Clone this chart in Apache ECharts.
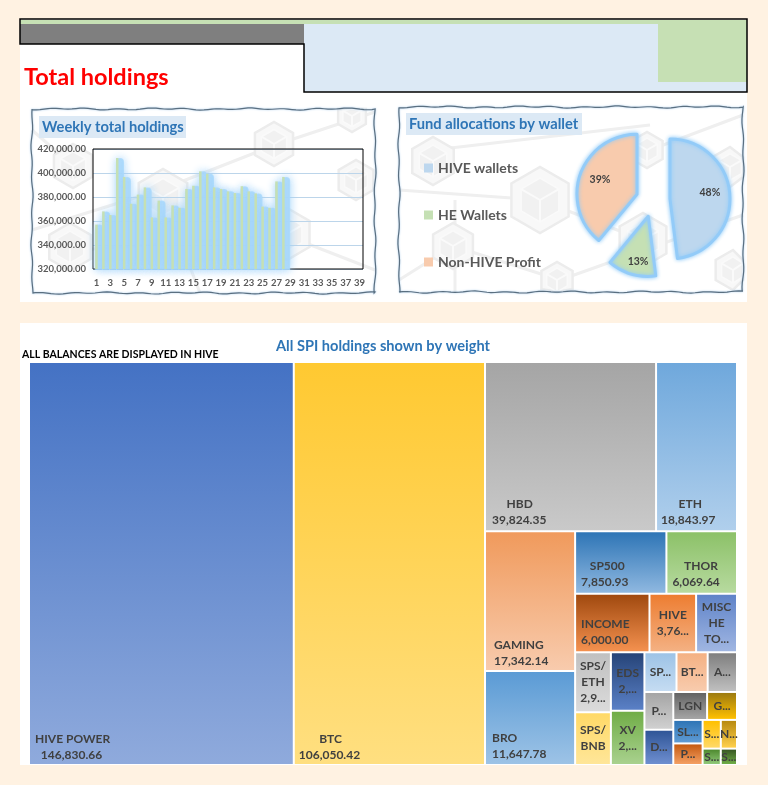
<!DOCTYPE html>
<html><head><meta charset="utf-8">
<style>html,body{margin:0;padding:0;background:#fff2e2}#c{width:768px;height:785px}</style>
<script src="https://cdn.jsdelivr.net/npm/echarts@6/dist/echarts.min.js"></script>
</head><body><div id="c"></div>
<script>
// ---------- data ----------
const weeks = ['1','2','3','4','5','6','7','8','9','10','11','12','13','14','15','16','17','18','19','20','21','22','23','24','25','26','27','28','29','30','31','32','33','34','35','36','37','38','39'];
const weeklyTotals = [357000,368000,365000,412500,396700,374400,382000,388000,363000,377000,363000,373000,371000,386700,389400,401400,399400,388000,386700,384700,383300,389000,384700,383000,372000,371000,393000,396700];
const walletNames = ['HIVE wallets','HE Wallets','Non-HIVE Profit'];
const walletShares = [48,13,39];
const holdingNames = ['HIVE POWER','BTC','HBD','ETH','GAMING','BRO','SP500','THOR','INCOME','HIVE','MISC HE TOKENS','SPS/ETH','SPS/BNB','EDS','XV','SP','BT','A','P','D','LGN','G','SL','P2','S1','N','S2','S3'];
const holdingValues = [146830.66,106050.42,39824.35,18843.97,17342.14,11647.78,7850.93,6069.64,6000,3760,3300,2950,2600,2700,2500,1750,1700,1600,1500,1400,1300,1150,950,870,720,640,410,365];
const holdingLabels = ['HIVE POWER\n  146,830.66','       BTC\n106,050.42','     HBD\n39,824.35','      ETH\n18,843.97','GAMING\n17,342.14','BRO\n11,647.78','   SP500\n7,850.93','    THOR\n6,069.64','INCOME\n6,000.00','HIVE\n3,76...','MISC\nHE\nTO...','SPS/\nETH\n2,9...','SPS/\nBNB','EDS\n2,...','XV\n2,...','SP...','BT...','A...','P...','D...','LGN','G...','SL...','P...','S...','N...','S...','S...'];
// ---------- styles ----------
const holdingColors = [['#4472c4','#8faadc'],['#ffc931','#ffdf80'],['#a5a5a5','#c9c9c9'],['#6fa8dc','#b0cfec'],['#f09a5c','#f8cbad'],['#5b9bd5','#9dc3e6'],['#2e75b6','#8fb8e0'],['#8cc168','#b7da9f'],['#a0490f','#f4914f'],['#ed7d31','#f4b183'],['#5f83c8','#a0b6e2'],['#c0c0c0','#dbdbdb'],['#ffd966','#ffe699'],['#264478','#5a80c6'],['#70ad47','#a9d18e'],['#9dc3e6','#c5dcf2'],['#f4b183','#f8cbad'],['#7f7f7f','#bfbfbf'],['#a5a5a5','#d0d0d0'],['#2f5597','#6f8fd0'],['#636363','#a5a5a5'],['#9c7a10','#ffc000'],['#2e75b6','#5f9bd4'],['#c55a11','#f4a064'],['#ffc000','#ffd966'],['#b88a10','#ffd04d'],['#4e8a2f','#90c878'],['#385723','#70ad47']];
// label box: [x offset, y offset] from leaf top-left (only for the big cells with bottom labels)
const labelAnchors = {0:[5,368],1:[4,368],2:[6,133],3:[4,133],4:[8,105],5:[6,58],6:[5,26],7:[5,26],8:[5,21]};
const nesting = [0,1,[[2,3],[[4,5],[[6,7],[[8,9,10],[[11,12],[[13,14],[[15,16,17],[[18,19],[[20,21],[[22,23],[[24,25],[26,27]
  ]]]]]]]]]]]];
const font = 'Lato, "Open Sans", sans-serif';
function buildNode(n){
  if(Array.isArray(n)) return {name:'', children:n.map(buildNode)};
  const a = labelAnchors[n];
  return {
    name: holdingNames[n], value: holdingValues[n],
    itemStyle:{borderWidth:1,borderColor:'#fff',color:{type:'linear',x:0,y:0,x2:0,y2:1,colorStops:[{offset:0,color:holdingColors[n][0]},{offset:1,color:holdingColors[n][1]}]}},
    label:{show:true,formatter:holdingLabels[n],lineHeight:n>=26?12:16,
      position:a||'inside',align:a?'left':'center',verticalAlign:a?'top':'middle'}
  };
}
// ---------- decoration ----------
function hexagons(card, list){
  const out=[];
  const clamp=p=>[Math.min(card.x+card.w,Math.max(card.x,p[0])),Math.min(card.y+card.h,Math.max(card.y,p[1]))];
  list.links.forEach(l=>out.push({type:'polyline',shape:{points:[clamp(l[0]),clamp(l[1])]},style:{stroke:'#efefef',lineWidth:3,fill:null}}));
  list.hex.forEach(h=>{
    const pts=[];for(let i=0;i<6;i++){const a=Math.PI/6+i*Math.PI/3;pts.push(clamp([h[0]+h[2]*Math.cos(a),h[1]+h[2]*Math.sin(a)]));}
    out.push({type:'polygon',shape:{points:pts},style:{fill:'#f8f8f8',stroke:'#ececec',lineWidth:2.5}});
    const r=h[2]*0.66,q=[];for(let i=0;i<6;i++){const a=Math.PI/6+i*Math.PI/3;q.push(clamp([h[0]+r*Math.cos(a),h[1]+r*Math.sin(a)]));}
    out.push({type:'polygon',shape:{points:q},style:{fill:'#f1f1f1',stroke:'#fafafa',lineWidth:1.5}});
    [1,3,5].forEach(i=>out.push({type:'polyline',shape:{points:[clamp([h[0],h[1]]),q[i]]},style:{stroke:'#fafafa',lineWidth:2,fill:null}}));
  });
  return out;
}
function wavyBorder(c){
  const pts=[];const wob=(t,k)=>Math.sin(t*0.19+k)*0.6+Math.sin(t*0.07+k*2)*0.5;
  for(let x=0;x<=c.w;x+=4)pts.push([c.x+x,c.y+wob(x,1)]);
  for(let y=0;y<=c.h;y+=4)pts.push([c.x+c.w+wob(y,2),c.y+y]);
  for(let x=c.w;x>=0;x-=4)pts.push([c.x+x,c.y+c.h+wob(x,3)]);
  for(let y=c.h;y>=0;y-=4)pts.push([c.x+wob(y,4),c.y+y]);
  return {type:'polygon',shape:{points:pts},style:{fill:null,stroke:'#5a6f80',lineWidth:1.2,shadowBlur:2,shadowColor:'#9fc5e8'}};
}
const rect=(x,y,w,h,fill)=>({type:'rect',shape:{x,y,width:w,height:h},style:{fill}});
const leftCard={x:32,y:109,w:343,h:184}, rightCard={x:399,y:107,w:344,h:185};
const graphics=[
  rect(20,19,727,283,'#fff'), rect(20,323,727,442,'#fff'),
  rect(20,20,727,5,'#c6e0b4'), rect(20,24,284,20,'#7f7f7f'), rect(304,24,443,68,'#dce9f5'), rect(658,24,89,58,'#c6e0b4'),
  {type:'polygon',shape:{points:[[20,19],[747,19],[747,92],[304,92],[304,44],[20,44]]},style:{fill:null,stroke:'#000',lineWidth:1.5}},
  rect(32,109,343,184,'#fff'), rect(399,107,344,185,'#fff'),
  ...hexagons(leftCard,{hex:[[73,166,22],[274,144,22],[163,197,28],[70,247,24],[356,180,20],[287,234,26],[352,116,16],[213,205,14]],
    links:[[[32,230],[160,190]],[[160,190],[275,145]],[[275,145],[375,112]],[[80,250],[285,235]],[[285,235],[375,270]],[[163,197],[200,293]],[[73,166],[32,130]]]}),
  ...hexagons(rightCard,{hex:[[433,161,24],[540,200,33],[453,246,23],[647,150,18],[643,240,27],[557,280,18],[730,167,20],[733,270,20]],
    links:[[[399,190],[540,200]],[[433,150],[650,125]],[[650,150],[743,115]],[[453,246],[399,280]],[[453,246],[560,280]],[[560,280],[743,215]],[[455,200],[455,292]],[[540,200],[643,240]]]}),
  wavyBorder(leftCard), wavyBorder(rightCard),
  rect(39,116,147,22,'#dce9f5'), rect(406,113,176,22,'#dce9f5')
];
// ---------- chart ----------
const barData = weeks.map((_,i)=> i<weeklyTotals.length?weeklyTotals[i]:null);
const labelPush = [[7,-4],[-1,14],[-6,-3]];
const sel = walletNames.map((n,i)=>({name:n,value:walletShares[i],selected:true,
  itemStyle:{color:['#bdd7ee','#c5e0b4','#f8cbad'][i]}}));
const chart = echarts.init(document.getElementById('c'),null,{renderer:'canvas'});
chart.setOption({
  animation:false,
  backgroundColor:'#fff2e2',
  textStyle:{fontFamily:font},
  graphic:graphics,
  title:[
    {text:'Total holdings',left:24,top:65,padding:0,textStyle:{color:'#ff0000',fontSize:23.5,fontWeight:'bold',fontFamily:font}},
    {text:'Weekly total holdings',left:42,top:120,padding:0,textStyle:{color:'#2e75b6',fontSize:14.7,fontWeight:'bold',fontFamily:font}},
    {text:'Fund allocations by wallet',left:409,top:117,padding:0,textStyle:{color:'#2e75b6',fontSize:14.7,fontWeight:'bold',fontFamily:font}},
    {text:'All SPI holdings shown by weight',left:276,top:339,padding:0,textStyle:{color:'#2e75b6',fontSize:14.6,fontWeight:'bold',fontFamily:font}},
    {text:'ALL BALANCES ARE DISPLAYED IN HIVE',left:22,top:349,padding:0,textStyle:{color:'#000',fontSize:10.5,fontWeight:'bold',fontFamily:font}}
  ],
  legend:{orient:'vertical',left:419,top:156,itemWidth:9,itemHeight:9,itemGap:33,icon:'rect',selectedMode:false,data:walletNames,
    itemStyle:{borderWidth:0,shadowBlur:0},
    textStyle:{color:'#595959',fontSize:14,fontWeight:'bold',fontFamily:font}},
  grid:{left:93,top:149,width:270,height:120,show:true,z:1,borderColor:'#000',borderWidth:1,backgroundColor:'transparent'},
  xAxis:{type:'category',data:weeks,axisTick:{show:false},axisLine:{show:false},
    axisLabel:{interval:1,color:'#595959',fontSize:9.5,fontWeight:'bold',margin:9,fontFamily:font}},
  yAxis:{type:'value',min:320000,max:420000,interval:20000,axisLine:{show:false},axisTick:{show:false},
    splitLine:{lineStyle:{color:'#bcd5ea',width:1}},
    axisLabel:{color:'#595959',fontSize:9.5,fontWeight:'bold',margin:7,fontFamily:font,
      formatter:v=>v.toLocaleString('en-US',{minimumFractionDigits:2})}},
  series:[
    {type:'bar',name:'glow',data:barData,barWidth:8,barGap:'-100%',silent:true,z:2,
      itemStyle:{color:'#a9d8fb',opacity:0.85,borderColor:'#a9d8fb',borderWidth:2,shadowBlur:8,shadowColor:'#9fd3fb',borderRadius:[4,4,0,0]}},
    {type:'bar',name:'Weekly total holdings',data:barData,barWidth:2.5,barGap:'-100%',z:3,
      itemStyle:{color:'#c5e0b4'}},
    {type:'pie',center:[653,200],radius:60,startAngle:90,selectedMode:'multiple',selectedOffset:17,
      data:sel,
      itemStyle:{borderColor:'#93cbf8',borderWidth:3,shadowBlur:4,shadowColor:'#8ecbfa'},
      select:{itemStyle:{borderColor:'#93cbf8',borderWidth:3,shadowBlur:4,shadowColor:'#8ecbfa'}},
      label:{show:true,position:'inside',formatter:'{c}%',color:'#404040',fontSize:10.5,fontWeight:'bold',fontFamily:font},
      labelLayout:p=>({dx:labelPush[p.dataIndex][0],dy:labelPush[p.dataIndex][1]}),
      labelLine:{show:false}},
    {type:'treemap',left:29,top:362,width:708,height:403,roam:false,nodeClick:false,
      sort:false,breadcrumb:{show:false},visibleMin:0,childrenVisibleMin:0,squareRatio:1,leafDepth:null,
      itemStyle:{borderWidth:0,gapWidth:0,borderColor:'#fff'},
      label:{show:true,color:'#404040',fontSize:12,fontWeight:'bold',fontFamily:font,lineHeight:16,overflow:'none',padding:0},
      upperLabel:{show:false},
      levels:[{itemStyle:{borderWidth:0,gapWidth:0}}],
      data:nesting.map(buildNode)}
  ]
});
</script></body></html>
